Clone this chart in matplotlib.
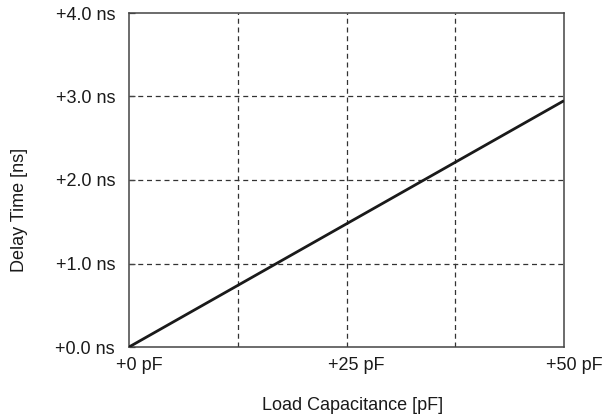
import numpy as np
import matplotlib
matplotlib.use("Agg")
import matplotlib.pyplot as plt
import matplotlib.transforms as mtransforms

plt.rcParams['font.family'] = ['Liberation Sans', 'DejaVu Sans']

# data
cap_pf = [0, 50]
delay_ns = [0.0, 2.95]
xticks = [0, 25, 50]
xtick_labels = ['+0 pF', '+25 pF', '+50 pF']
xgrid = [12.5, 25, 37.5]
yticks = [0, 1, 2, 3, 4]
ytick_labels = ['+0.0 ns', '+1.0 ns', '+2.0 ns', '+3.0 ns', '+4.0 ns']

fig = plt.figure(figsize=(6.05, 4.19), dpi=100)
ax = fig.add_axes([129/605, 1 - 347/419, 435/605, 334/419])

for x in xgrid:
    ax.axvline(x, color='#333333', lw=0.9, ls=(0, (4, 3)), zorder=1)
for y in yticks[1:-1]:
    ax.axhline(y, color='#333333', lw=0.9, ls=(0, (4, 3)), zorder=1)

ax.plot(cap_pf, delay_ns, color='#1a1a1a', lw=2, solid_capstyle='butt', zorder=3)

ax.set_xlim(0, 50)
ax.set_ylim(0, 4)
ax.set_xticks(xticks)
ax.set_xticklabels(xtick_labels)
ax.set_yticks(yticks)
ax.set_yticklabels(ytick_labels)
ax.tick_params(labelsize=13, labelcolor='#1a1a1a', color='#444444')
ax.tick_params(axis='x', length=0, pad=7)
ax.tick_params(axis='y', direction='in', length=4, width=0.9, pad=10)
# x tick labels sit a bit right of the ticks in the original
shift = mtransforms.ScaledTranslation(10/100, 0, fig.dpi_scale_trans)
for lab in ax.get_xticklabels():
    lab.set_transform(lab.get_transform() + shift)
for s in ax.spines.values():
    s.set_color('#444444')
    s.set_linewidth(1.1)

ax.set_xlabel('Load Capacitance [pF]', fontsize=13, color='#1a1a1a')
ax.set_ylabel('Delay Time [ns]', fontsize=13, color='#1a1a1a')
ax.xaxis.set_label_coords(0.515, -0.15)
ax.yaxis.set_label_coords(-0.233, 0.41)

fig.savefig('out.png', dpi=100)
